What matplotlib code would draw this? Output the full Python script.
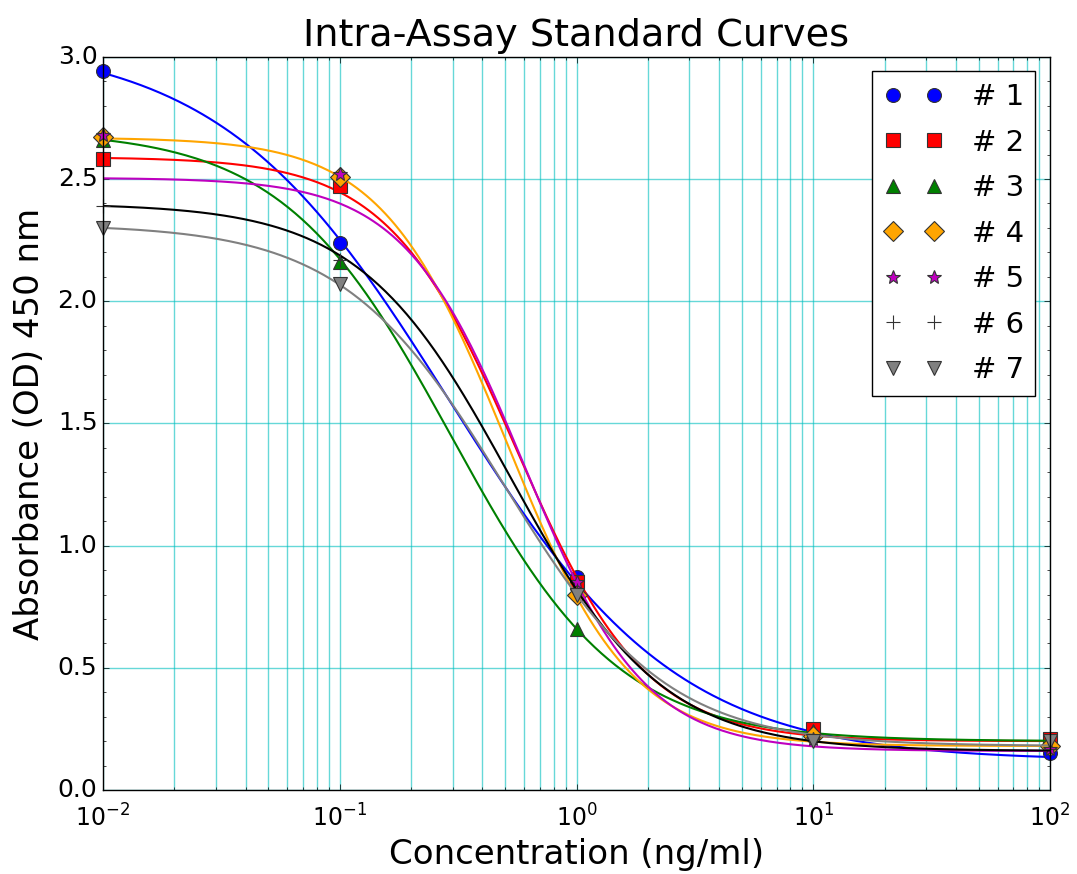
import numpy as np
import matplotlib
matplotlib.use('Agg')
import matplotlib.pyplot as plt

# Standard concentrations (ng/ml)
conc = [0.01, 0.1, 1, 10, 100]

# Measured absorbance for each run
od_1 = [2.94, 2.24, 0.87, 0.24, 0.15]
od_2 = [2.58, 2.47, 0.85, 0.25, 0.21]
od_3 = [2.66, 2.16, 0.66, 0.24, 0.20]
od_4 = [2.67, 2.51, 0.80, 0.22, 0.18]
od_5 = [2.68, 2.52, 0.85, 0.21, 0.17]
od_6 = [2.39, 2.17, 0.82, 0.21, 0.17]
od_7 = [2.30, 2.07, 0.80, 0.20, 0.20]

# 4PL fit parameters per run: top, slope, EC50, bottom
fit_1 = [3.07, 0.90, 0.29, 0.12]
fit_2 = [2.59, 1.60, 0.557, 0.20]
fit_3 = [2.70, 1.22, 0.295, 0.20]
fit_4 = [2.67, 1.65, 0.506, 0.18]
fit_5 = [2.505, 1.71, 0.599, 0.16]
fit_6 = [2.40, 1.36, 0.526, 0.16]
fit_7 = [2.315, 1.27, 0.495, 0.18]

labels = ['# 1', '# 2', '# 3', '# 4', '# 5', '# 6', '# 7']


def four_pl(x, top, slope, ec50, bottom):
    return bottom + (top - bottom) / (1 + (x / ec50) ** slope)


plt.style.use('classic')
plt.rcParams['figure.facecolor'] = 'white'
plt.rcParams['savefig.facecolor'] = 'white'

runs = [od_1, od_2, od_3, od_4, od_5, od_6, od_7]
fits = [fit_1, fit_2, fit_3, fit_4, fit_5, fit_6, fit_7]
colors = ['blue', 'red', 'green', 'orange', 'm', 'k', 'gray']
markers = ['o', 's', '^', 'D', '*', '+', 'v']

fig, ax = plt.subplots(figsize=(10.77, 8.74), dpi=100)
fig.subplots_adjust(left=0.0956, right=0.975, top=0.935, bottom=0.096)

xs = np.logspace(-2, 2, 400)
for od, p, c, m, lab in zip(runs, fits, colors, markers, labels):
    ax.plot(xs, four_pl(xs, *p), '-', color=c, lw=1.5)
    ax.plot(conc, od, linestyle='none', marker=m, color=c, markersize=10,
            markeredgecolor='0.2', markeredgewidth=0.8, label=lab, clip_on=False)

ax.set_xscale('log')
ax.set_xlim(0.01, 100)
ax.set_ylim(0, 3)
ax.set_yticks(np.arange(0, 3.01, 0.5))
ax.set_yticks(np.arange(0, 3.01, 0.1), minor=True)
ax.grid(True, which='both', axis='x', color='c', alpha=0.6, linestyle='-', lw=1)
ax.grid(True, which='major', axis='y', color='c', alpha=0.6, linestyle='-', lw=1)
ax.set_axisbelow(True)
ax.tick_params(axis='y', labelsize=18)
ax.tick_params(axis='x', labelsize=17, pad=10)

ax.set_title('Intra-Assay Standard Curves', fontsize=27.5, pad=8)
ax.set_xlabel('Concentration (ng/ml)', fontsize=24.5)
ax.set_ylabel('Absorbance (OD) 450 nm', fontsize=24.5, labelpad=8)

ax.legend(loc='upper right', numpoints=2, fontsize=21, borderaxespad=0.5,
          handletextpad=1.0, labelspacing=0.6)

fig.savefig('out.png', dpi=100)
